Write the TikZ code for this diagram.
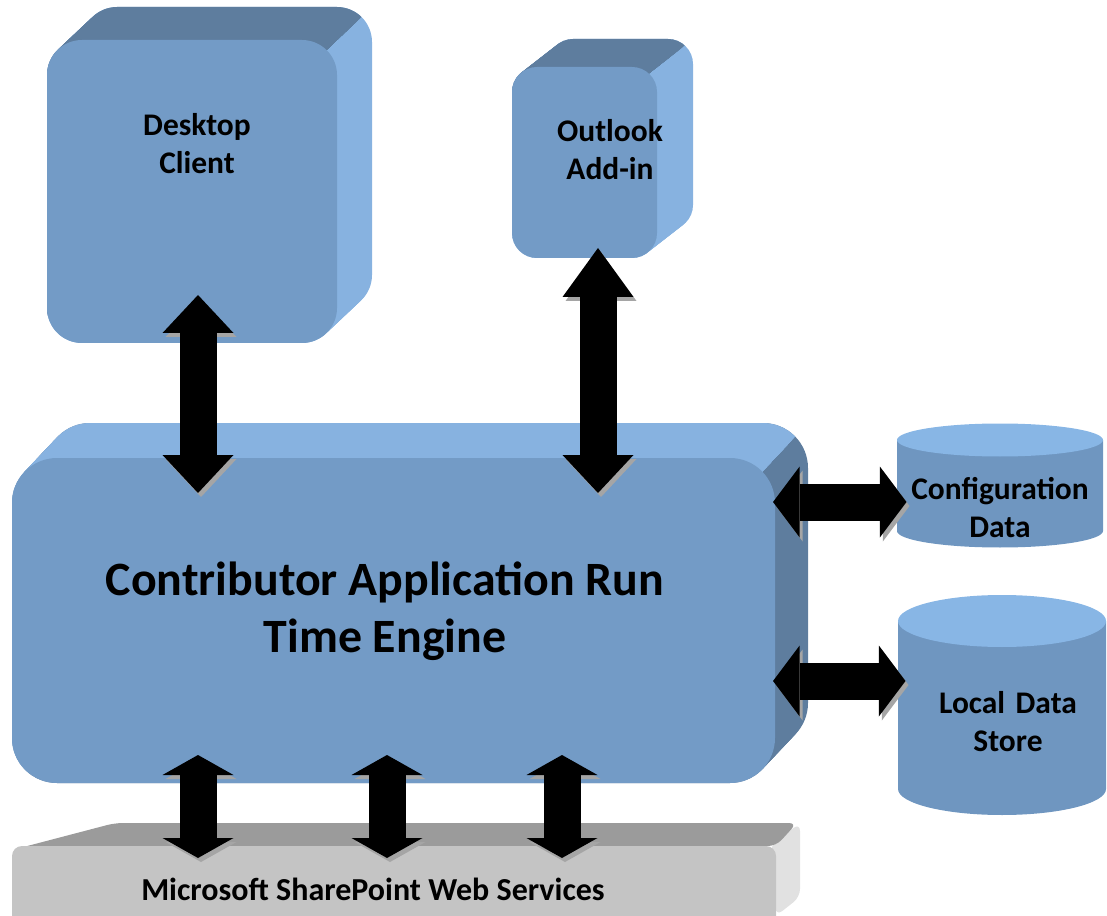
\documentclass[tikz,border=0pt]{standalone}
\usepackage{fontspec}
\setmainfont{Carlito}
\usetikzlibrary{arrows.meta}

\definecolor{facefill}{RGB}{115,155,198}
\definecolor{darkface}{RGB}{94,125,158}
\definecolor{lightface}{RGB}{135,178,224}
\definecolor{cylbody}{RGB}{111,150,192}
\definecolor{cyltop}{RGB}{136,182,229}
\definecolor{bartop}{RGB}{155,155,155}
\definecolor{barfront}{RGB}{196,196,196}
\definecolor{barside}{RGB}{225,225,225}
\definecolor{shadowgray}{RGB}{165,165,165}

\tikzset{every picture/.style={line width=0.75pt}}

\begin{document}
\begin{tikzpicture}[x=0.75pt,y=0.75pt,yscale=-1,xscale=1,
  face/.style={fill=facefill, inner sep=0pt, outer sep=0pt},
  lbl/.style={font=\bfseries\fontsize{23.6}{28.5}\selectfont, align=center, inner sep=0pt},
  bigl/.style={font=\bfseries\fontsize{35.9}{42.75}\selectfont, align=center, inner sep=0pt},
  dblarrow/.style={line width=27.75pt,
    {Triangle[length=#1,width=53.25pt,line width=0pt]}-{Triangle[length=#1,width=53.25pt,line width=0pt]},
    preaction={draw=shadowgray, transform canvas={xshift=2.25pt,yshift=-3pt}}},
  dblarrow/.default=28.5pt]
	\useasboundingbox (0,0) rectangle (1107,916);

	%Shape: Desktop Client extrusion
	\foreach \i in {0,...,20}
	  \fill[lightface, rounded corners=26.25pt] (47+1.75*\i,40-1.65*\i) rectangle (337+1.75*\i,343-1.65*\i);
	\begin{scope}
	  \clip (20,343) -- (20,-20) -- (400.6,-20) -- (337,40) -- (302,73) -- cycle;
	  \foreach \i in {0,...,20}
	    \fill[darkface, rounded corners=26.25pt] (47+1.75*\i,40-1.65*\i) rectangle (337+1.75*\i,343-1.65*\i);
	\end{scope}
	%Shape: Desktop Client front
	\node[face, rounded corners=26.25pt, minimum width=217.5pt, minimum height=227.25pt] (desk) at (192,191.5) {};

	%Shape: Outlook Add-in extrusion
	\foreach \i in {0,...,20}
	  \fill[lightface, rounded corners=18.75pt] (512+1.8*\i,67-1.4*\i) rectangle (657+1.8*\i,258-1.4*\i);
	\begin{scope}
	  \clip (490,258) -- (490,10) -- (730.3,10) -- (657,67) -- (621,95) -- cycle;
	  \foreach \i in {0,...,20}
	    \fill[darkface, rounded corners=18.75pt] (512+1.8*\i,67-1.4*\i) rectangle (657+1.8*\i,258-1.4*\i);
	\end{scope}
	%Shape: Outlook Add-in front
	\node[face, rounded corners=18.75pt, minimum width=108.75pt, minimum height=143.25pt] (out) at (584.5,162.5) {};

	%Shape: Run Time Engine extrusion
	\foreach \i in {0,...,20}
	  \fill[darkface, rounded corners=33.75pt] (12+1.65*\i,458-1.75*\i) rectangle (775+1.65*\i,783-1.75*\i);
	\begin{scope}
	  \clip (0,783) -- (0,400) -- (829.7,400) -- (775,458) -- (742,493) -- cycle;
	  \foreach \i in {0,...,20}
	    \fill[lightface, rounded corners=33.75pt] (12+1.65*\i,458-1.75*\i) rectangle (775+1.65*\i,783-1.75*\i);
	\end{scope}
	%Shape: Run Time Engine front
	\node[face, rounded corners=33.75pt, minimum width=572.25pt, minimum height=243.75pt] (eng) at (393.5,620.5) {};

	%Shape: SharePoint bar
	\fill[barside, rounded corners=6pt] (770,846) -- (800,823) -- (800,897) -- (776,916) -- cycle;
	\fill[bartop, rounded corners=6pt] (12,850) -- (115,823) -- (797,823) -- (776,846) -- cycle;
	\node[fill=barfront, rounded corners=7.5pt, inner sep=0pt, outer sep=0pt, minimum width=573pt, minimum height=60pt] (sp) at (394,886) {};

	%Shape: Configuration Data cylinder
	\fill[cylbody] (897,440) -- (897,531) arc[start angle=180, end angle=0, x radius=103, y radius=16.5] -- (1103,440) -- cycle;
	\fill[cyltop] (1000,440) ellipse [x radius=103, y radius=16.5];
	%Shape: Local Data Store cylinder
	\fill[cylbody] (898,621) -- (898,789) arc[start angle=180, end angle=0, x radius=104, y radius=26] -- (1106,621) -- cycle;
	\fill[cyltop] (1002,621) ellipse [x radius=104, y radius=26];

	% Text Node
	\node[lbl] (desktxt) at (197,144) {Desktop\\Client};
	% Text Node
	\node[lbl] (outtxt) at (610,150) {Outlook\\Add-in};
	% Text Node
	\node[bigl] (engtxt) at (385,611) {Contributor Application Run\\Time Engine};
	% Text Node
	\node[lbl, text width=154.5pt] (cfg) at (1000,508) {Configuration\\Data};
	% Text Node
	\node[lbl, text width=156pt] (loc) at (1008,722) {Local Data\\Store};
	% Text Node
	\node[lbl, font=\bfseries\fontsize{24}{28}\selectfont] (sptxt) at (373,889) {Microsoft SharePoint Web Services};

	%Double Arrows
	\draw[dblarrow, shorten <=-36pt, shorten >=-26.25pt] (desk.south -| 198,0) -- (eng.north -| 198,0);
	\draw[dblarrow, {Triangle[length=36.75pt,width=53.25pt,line width=0pt]}-{Triangle[length=28.5pt,width=53.25pt,line width=0pt]}, shorten <=-7.5pt, shorten >=-26.25pt] (out.south -| 598,0) -- (eng.north -| 598,0);
	\draw[dblarrow=20pt, shorten <=-1.5pt, shorten >=-7.5pt] (eng.east |- 0,502) -- (cfg.west |- 0,502);
	\draw[dblarrow=20pt, shorten <=-1.5pt, shorten >=-1.5pt] (eng.east |- 0,681) -- (loc.west |- 0,681);
	\foreach \ax in {198,387,562}
	  \draw[dblarrow=15pt, shorten <=-21pt, shorten >=-9pt] (eng.south -| \ax,0) -- (sp.north -| \ax,0);

\end{tikzpicture}
\end{document}
